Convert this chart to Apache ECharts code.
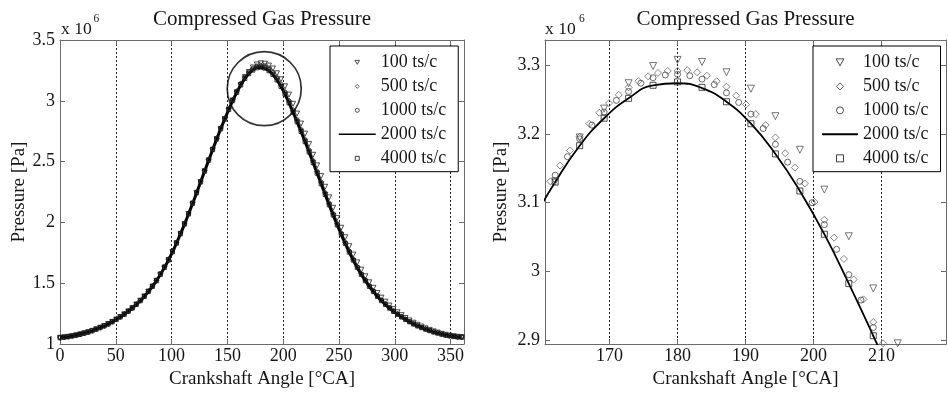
<!DOCTYPE html>
<html><head><meta charset="utf-8">
<script src="https://cdn.jsdelivr.net/npm/echarts@6.0.0/dist/echarts.min.js"></script>
<style>html,body{margin:0;padding:0;background:#fff}#c{width:948px;height:394px}</style>
</head><body><div id="c"></div><script>
// ---------- data ----------
const seriesNames = ['100 ts/c', '500 ts/c', '1000 ts/c', '2000 ts/c', '4000 ts/c'];

// full cycle, sampled every 3.6 degCA
const angleFull = [
  0, 3.6, 7.2, 10.8, 14.4, 18, 21.6, 25.2, 28.8, 32.4,
  36, 39.6, 43.2, 46.8, 50.4, 54, 57.6, 61.2, 64.8, 68.4,
  72, 75.6, 79.2, 82.8, 86.4, 90, 93.6, 97.2, 100.8, 104.4,
  108, 111.6, 115.2, 118.8, 122.4, 126, 129.6, 133.2, 136.8, 140.4,
  144, 147.6, 151.2, 154.8, 158.4, 162, 165.6, 169.2, 172.8, 176.4,
  180, 183.6, 187.2, 190.8, 194.4, 198, 201.6, 205.2, 208.8, 212.4,
  216, 219.6, 223.2, 226.8, 230.4, 234, 237.6, 241.2, 244.8, 248.4,
  252, 255.6, 259.2, 262.8, 266.4, 270, 273.6, 277.2, 280.8, 284.4,
  288, 291.6, 295.2, 298.8, 302.4, 306, 309.6, 313.2, 316.8, 320.4,
  324, 327.6, 331.2, 334.8, 338.4, 342, 345.6, 349.2, 352.8, 356.4,
  360
];
const p2000Full = [
  1.051, 1.055, 1.059, 1.065, 1.071, 1.079, 1.088, 1.097, 1.108, 1.121,
  1.134, 1.148, 1.164, 1.182, 1.201, 1.222, 1.244, 1.268, 1.295, 1.325,
  1.356, 1.391, 1.431, 1.473, 1.520, 1.572, 1.629, 1.690, 1.757, 1.829,
  1.906, 1.986, 2.069, 2.155, 2.243, 2.332, 2.421, 2.510, 2.598, 2.685,
  2.769, 2.849, 2.928, 3.001, 3.069, 3.130, 3.183, 3.223, 3.252, 3.271,
  3.274, 3.267, 3.247, 3.215, 3.171, 3.117, 3.054, 2.982, 2.906, 2.827,
  2.747, 2.664, 2.578, 2.491, 2.404, 2.317, 2.230, 2.144, 2.060, 1.979,
  1.901, 1.826, 1.755, 1.689, 1.628, 1.571, 1.520, 1.473, 1.431, 1.391,
  1.356, 1.325, 1.295, 1.268, 1.244, 1.222, 1.201, 1.182, 1.164, 1.148,
  1.134, 1.121, 1.109, 1.098, 1.089, 1.080, 1.072, 1.066, 1.061, 1.057,
  1.055
];
const p4000Full = [
  1.051, 1.055, 1.059, 1.065, 1.071, 1.079, 1.088, 1.097, 1.108, 1.121,
  1.134, 1.148, 1.164, 1.182, 1.201, 1.222, 1.244, 1.268, 1.295, 1.325,
  1.356, 1.391, 1.431, 1.473, 1.520, 1.572, 1.629, 1.690, 1.757, 1.829,
  1.906, 1.986, 2.069, 2.155, 2.243, 2.332, 2.421, 2.510, 2.598, 2.685,
  2.769, 2.849, 2.928, 3.001, 3.069, 3.130, 3.183, 3.223, 3.252, 3.271,
  3.276, 3.268, 3.247, 3.215, 3.171, 3.117, 3.054, 2.982, 2.906, 2.827,
  2.747, 2.664, 2.578, 2.491, 2.404, 2.317, 2.230, 2.144, 2.060, 1.979,
  1.901, 1.826, 1.755, 1.689, 1.628, 1.571, 1.520, 1.473, 1.431, 1.391,
  1.356, 1.325, 1.295, 1.268, 1.244, 1.222, 1.201, 1.182, 1.164, 1.148,
  1.134, 1.121, 1.109, 1.098, 1.089, 1.080, 1.072, 1.066, 1.061, 1.057,
  1.055
];
const p100Full = [
  1.051, 1.055, 1.059, 1.065, 1.071, 1.079, 1.088, 1.097, 1.108, 1.121,
  1.134, 1.148, 1.164, 1.182, 1.201, 1.222, 1.244, 1.268, 1.295, 1.325,
  1.356, 1.391, 1.431, 1.473, 1.520, 1.572, 1.629, 1.690, 1.757, 1.829,
  1.906, 1.986, 2.069, 2.155, 2.243, 2.332, 2.421, 2.510, 2.598, 2.685,
  2.769, 2.850, 2.929, 3.003, 3.071, 3.131, 3.195, 3.237, 3.274, 3.299,
  3.308, 3.305, 3.290, 3.266, 3.226, 3.177, 3.119, 3.051, 2.975, 2.895,
  2.813, 2.730, 2.644, 2.556, 2.469, 2.381, 2.293, 2.206, 2.120, 2.037,
  1.956, 1.878, 1.804, 1.735, 1.671, 1.611, 1.557, 1.507, 1.462, 1.419,
  1.381, 1.348, 1.316, 1.287, 1.261, 1.237, 1.214, 1.194, 1.175, 1.158,
  1.143, 1.129, 1.116, 1.104, 1.094, 1.084, 1.076, 1.069, 1.064, 1.059,
  1.057
];
const p500Full = [
  1.054, 1.058, 1.062, 1.068, 1.074, 1.082, 1.091, 1.100, 1.111, 1.124,
  1.137, 1.151, 1.167, 1.185, 1.204, 1.225, 1.247, 1.271, 1.298, 1.328,
  1.359, 1.394, 1.434, 1.476, 1.523, 1.580, 1.637, 1.698, 1.765, 1.837,
  1.914, 1.994, 2.077, 2.163, 2.251, 2.340, 2.429, 2.518, 2.606, 2.693,
  2.777, 2.857, 2.936, 3.009, 3.080, 3.143, 3.196, 3.238, 3.268, 3.286,
  3.292, 3.288, 3.269, 3.236, 3.195, 3.139, 3.075, 3.003, 2.926, 2.848,
  2.767, 2.684, 2.597, 2.510, 2.422, 2.334, 2.246, 2.159, 2.074, 1.992,
  1.913, 1.837, 1.765, 1.698, 1.636, 1.578, 1.527, 1.479, 1.437, 1.396,
  1.361, 1.329, 1.299, 1.272, 1.247, 1.225, 1.204, 1.185, 1.167, 1.151,
  1.137, 1.124, 1.112, 1.101, 1.092, 1.083, 1.075, 1.069, 1.064, 1.060,
  1.058
];
const p1000Full = [
  1.053, 1.057, 1.061, 1.067, 1.073, 1.081, 1.090, 1.099, 1.110, 1.123,
  1.136, 1.150, 1.166, 1.184, 1.203, 1.224, 1.246, 1.270, 1.297, 1.327,
  1.358, 1.393, 1.433, 1.475, 1.522, 1.577, 1.634, 1.695, 1.762, 1.834,
  1.911, 1.991, 2.074, 2.160, 2.248, 2.337, 2.426, 2.515, 2.603, 2.690,
  2.774, 2.854, 2.933, 3.007, 3.076, 3.140, 3.193, 3.232, 3.262, 3.282,
  3.287, 3.280, 3.260, 3.229, 3.185, 3.131, 3.068, 2.995, 2.918, 2.840,
  2.759, 2.676, 2.589, 2.502, 2.414, 2.327, 2.239, 2.153, 2.068, 1.987,
  1.908, 1.833, 1.761, 1.695, 1.633, 1.576, 1.524, 1.477, 1.434, 1.394,
  1.359, 1.328, 1.297, 1.270, 1.246, 1.224, 1.203, 1.184, 1.166, 1.150,
  1.136, 1.123, 1.111, 1.100, 1.091, 1.082, 1.074, 1.068, 1.063, 1.059,
  1.057
];

// zoomed window: denser markers of 500 ts/c (every 1.44 deg) and 1000 ts/c (every 1.8 deg)
const angle500Zoom = [
  161.28, 162.72, 164.16, 165.6, 167.04, 168.48, 169.92, 171.36, 172.8, 174.24,
  175.68, 177.12, 178.56, 180, 181.44, 182.88, 184.32, 185.76, 187.2, 188.64,
  190.08, 191.52, 192.96, 194.4, 195.84, 197.28, 198.72, 200.16, 201.6, 203.04,
  204.48, 205.92, 207.36, 208.8, 210.24
];
const p500Zoom = [
  3.131, 3.154, 3.176, 3.196, 3.215, 3.231, 3.245, 3.257, 3.268, 3.277,
  3.284, 3.289, 3.292, 3.292, 3.293, 3.290, 3.285, 3.277, 3.269, 3.256,
  3.243, 3.229, 3.213, 3.195, 3.172, 3.151, 3.128, 3.101, 3.075, 3.049,
  3.018, 2.988, 2.959, 2.926, 2.895
];
const angle1000Zoom = [
  162, 163.8, 165.6, 167.4, 169.2, 171, 172.8, 174.6, 176.4, 178.2,
  180, 181.8, 183.6, 185.4, 187.2, 189, 190.8, 192.6, 194.4, 196.2,
  198, 199.8, 201.6, 203.4, 205.2, 207, 208.8
];
const p1000Zoom = [
  3.140, 3.167, 3.193, 3.213, 3.232, 3.249, 3.262, 3.274, 3.282, 3.286,
  3.287, 3.285, 3.280, 3.272, 3.260, 3.246, 3.229, 3.208, 3.185, 3.159,
  3.131, 3.100, 3.068, 3.032, 2.995, 2.958, 2.918
];

// tick labels
const xTicksLeft = [0, 50, 100, 150, 200, 250, 300, 350];
const yTicksLeft = [1, 1.5, 2, 2.5, 3, 3.5];
const xTicksRight = [170, 180, 190, 200, 210];
const yTicksRight = [2.9, 3, 3.1, 3.2, 3.3];
// centre of the "zoom" ring drawn on the left plot
const zoomRing = [183, 3.1];

// ---------- chart ----------
const FONT = '"Liberation Serif","Times New Roman",serif';
const BOX = '#6b6b6b';
const TXT = '#161616';
const fmt = v => String(Math.round(v * 10) / 10);
const pairs = (xs, ys) => xs.map((x, i) => [x, ys[i]]);

function xMain(gi, min, max, ticks) {
  return {
    type: 'value', gridIndex: gi, position: 'bottom', min, max,
    axisLine: {show: true, onZero: false, lineStyle: {color: BOX, width: 1}},
    axisTick: {show: true, inside: true, length: 5, customValues: ticks, lineStyle: {color: BOX}},
    axisLabel: {show: true, customValues: ticks, formatter: fmt, margin: 3,
      fontFamily: FONT, fontSize: 18, color: TXT},
    splitLine: {show: true, lineStyle: {color: '#222', width: 1, type: [2, 2]}},
    name: 'Crankshaft Angle [°CA]', nameLocation: 'middle', nameGap: 26,
    nameTextStyle: {fontFamily: FONT, fontSize: 19, color: TXT}
  };
}
function xTop(gi, min, max, ticks) {
  return {
    type: 'value', gridIndex: gi, position: 'top', min, max,
    axisLine: {show: true, onZero: false, lineStyle: {color: BOX, width: 1}},
    axisTick: {show: true, inside: true, length: 5, customValues: ticks, lineStyle: {color: BOX}},
    axisLabel: {show: false}, splitLine: {show: false}
  };
}
function yMain(gi, min, max, ticks, gap) {
  return {
    type: 'value', gridIndex: gi, position: 'left', min, max,
    axisLine: {show: true, onZero: false, lineStyle: {color: BOX, width: 1}},
    axisTick: {show: true, inside: true, length: 5, customValues: ticks, lineStyle: {color: BOX}},
    axisLabel: {show: true, customValues: ticks, formatter: fmt, margin: 5,
      fontFamily: FONT, fontSize: 18, color: TXT},
    splitLine: {show: false},
    name: 'Pressure [Pa]', nameLocation: 'middle', nameRotate: 90, nameGap: gap,
    nameTextStyle: {fontFamily: FONT, fontSize: 19, color: TXT}
  };
}
function yRight(gi, min, max, ticks) {
  return {
    type: 'value', gridIndex: gi, position: 'right', min, max,
    axisLine: {show: true, onZero: false, lineStyle: {color: BOX, width: 1}},
    axisTick: {show: true, inside: true, length: 5, customValues: ticks, lineStyle: {color: BOX}},
    axisLabel: {show: false}, splitLine: {show: false}
  };
}
const hollow = (c, w) => ({color: 'rgba(0,0,0,0)', borderColor: c, borderWidth: w});
// legend icons (kept square inside the wide legend sample area)
const legendIcons = {
  '100 ts/c': 'path://M0,0 L10,0 L5,9 Z',
  '500 ts/c': 'path://M5,0 L10,5 L5,10 L0,5 Z',
  '1000 ts/c': 'path://M0,5 A5,5 0 1,0 10,5 A5,5 0 1,0 0,5 Z',
  '4000 ts/c': 'path://M0,0 L10,0 L10,10 L0,10 Z'
};
function legendCfg(left, iw, ih, lw) {
  return {
    data: seriesNames.map(n => legendIcons[n]
      ? {name: n, icon: legendIcons[n]}
      : {name: n, itemStyle: {color: 'rgba(0,0,0,0)', borderWidth: 0}}),
    orient: 'vertical', left, top: 46,
    itemWidth: iw, itemHeight: ih, itemGap: 5.3, padding: [7, 12, 4, 8],
    borderColor: '#000', borderWidth: 1, backgroundColor: '#fff',
    symbolKeepAspect: true, symbolRotate: 0,
    itemStyle: {borderWidth: 1}, lineStyle: {width: lw},
    selectedMode: false,
    textStyle: {fontFamily: FONT, fontSize: 18, lineHeight: 18.7, color: TXT}
  };
}

const XL = [0, 362], YL = [1, 3.5];
const XR = [160.5, 219.5], YR = [2.894, 3.337];

const option = {
  animation: false,
  backgroundColor: '#fff',
  grid: [
    {left: 60, top: 40, width: 404, height: 304, containLabel: false},
    {left: 545, top: 40, width: 401, height: 306, containLabel: false}
  ],
  xAxis: [xMain(0, XL[0], XL[1], xTicksLeft), xTop(0, XL[0], XL[1], xTicksLeft),
          xMain(1, XR[0], XR[1], xTicksRight), xTop(1, XR[0], XR[1], xTicksRight)],
  yAxis: [yMain(0, YL[0], YL[1], yTicksLeft, 31), yRight(0, YL[0], YL[1], yTicksLeft),
          yMain(1, YR[0], YR[1], yTicksRight, 34), yRight(1, YR[0], YR[1], yTicksRight)],
  legend: [legendCfg(330, 37, 4, 1.5), legendCfg(813, 36, 7, 2)],
  graphic: [
    {type: 'text', x: 262, y: 19, style: {text: 'Compressed Gas Pressure', fontFamily: FONT, fontSize: 21, fill: TXT, align: 'center', verticalAlign: 'middle'}},
    {type: 'text', x: 745.5, y: 19, style: {text: 'Compressed Gas Pressure', fontFamily: FONT, fontSize: 21, fill: TXT, align: 'center', verticalAlign: 'middle'}},
    {type: 'text', x: 61, y: 29, style: {text: 'x 10', fontFamily: FONT, fontSize: 17.5, fill: TXT, align: 'left', verticalAlign: 'middle'}},
    {type: 'text', x: 93.5, y: 19, style: {text: '6', fontFamily: FONT, fontSize: 11.5, fill: TXT, align: 'left', verticalAlign: 'middle'}},
    {type: 'text', x: 545, y: 29, style: {text: 'x 10', fontFamily: FONT, fontSize: 17.5, fill: TXT, align: 'left', verticalAlign: 'middle'}},
    {type: 'text', x: 579, y: 19, style: {text: '6', fontFamily: FONT, fontSize: 11.5, fill: TXT, align: 'left', verticalAlign: 'middle'}}
  ],
  series: [
    // ---- left: full cycle ----
    {name: '100 ts/c', type: 'scatter', xAxisIndex: 0, yAxisIndex: 0, data: pairs(angleFull, p100Full),
     symbol: 'triangle', symbolRotate: 180, symbolSize: 5, itemStyle: hollow('#222', 1), silent: true, z: 3},
    {name: '500 ts/c', type: 'scatter', xAxisIndex: 0, yAxisIndex: 0, data: pairs(angleFull, p500Full),
     symbol: 'diamond', symbolSize: 5, itemStyle: hollow('#333', 1), silent: true, z: 3},
    {name: '1000 ts/c', type: 'scatter', xAxisIndex: 0, yAxisIndex: 0, data: pairs(angleFull, p1000Full),
     symbol: 'circle', symbolSize: 4, itemStyle: hollow('#222', 1), silent: true, z: 3},
    {name: '2000 ts/c', type: 'line', xAxisIndex: 0, yAxisIndex: 0, data: pairs(angleFull, p2000Full),
     symbol: 'none', smooth: true, lineStyle: {color: '#000', width: 3}, itemStyle: {color: '#000'}, silent: true, z: 2},
    {name: '4000 ts/c', type: 'scatter', xAxisIndex: 0, yAxisIndex: 0, data: pairs(angleFull, p4000Full),
     symbol: 'rect', symbolSize: 4, itemStyle: hollow('#111', 1), silent: true, z: 3},
    {name: 'zoom ring', type: 'scatter', xAxisIndex: 0, yAxisIndex: 0, data: [zoomRing],
     symbol: 'circle', symbolSize: 74, itemStyle: hollow('#000', 1.7), silent: true, z: 5},
    // ---- right: zoom around TDC ----
    {name: '100 ts/c', type: 'scatter', xAxisIndex: 2, yAxisIndex: 2, data: pairs(angleFull, p100Full),
     symbol: 'triangle', symbolRotate: 180, symbolSize: 7, itemStyle: hollow('#555', 1), silent: true, z: 3},
    {name: '500 ts/c', type: 'scatter', xAxisIndex: 2, yAxisIndex: 2, data: pairs(angle500Zoom, p500Zoom),
     symbol: 'diamond', symbolSize: 7, itemStyle: hollow('#666', 1), silent: true, z: 3},
    {name: '1000 ts/c', type: 'scatter', xAxisIndex: 2, yAxisIndex: 2, data: pairs(angle1000Zoom, p1000Zoom),
     symbol: 'circle', symbolSize: 6, itemStyle: hollow('#444', 1), silent: true, z: 3},
    {name: '2000 ts/c', type: 'line', xAxisIndex: 2, yAxisIndex: 2, data: pairs(angleFull, p2000Full),
     symbol: 'none', smooth: true, lineStyle: {color: '#000', width: 1.8}, itemStyle: {color: '#000'}, silent: true, z: 2},
    {name: '4000 ts/c', type: 'scatter', xAxisIndex: 2, yAxisIndex: 2, data: pairs(angleFull, p4000Full),
     symbol: 'rect', symbolSize: 6, itemStyle: hollow('#222', 1), silent: true, z: 3}
  ]
};
const chart = echarts.init(document.getElementById('c'), null, {renderer: 'canvas'});
chart.setOption(option);
</script></body></html>
